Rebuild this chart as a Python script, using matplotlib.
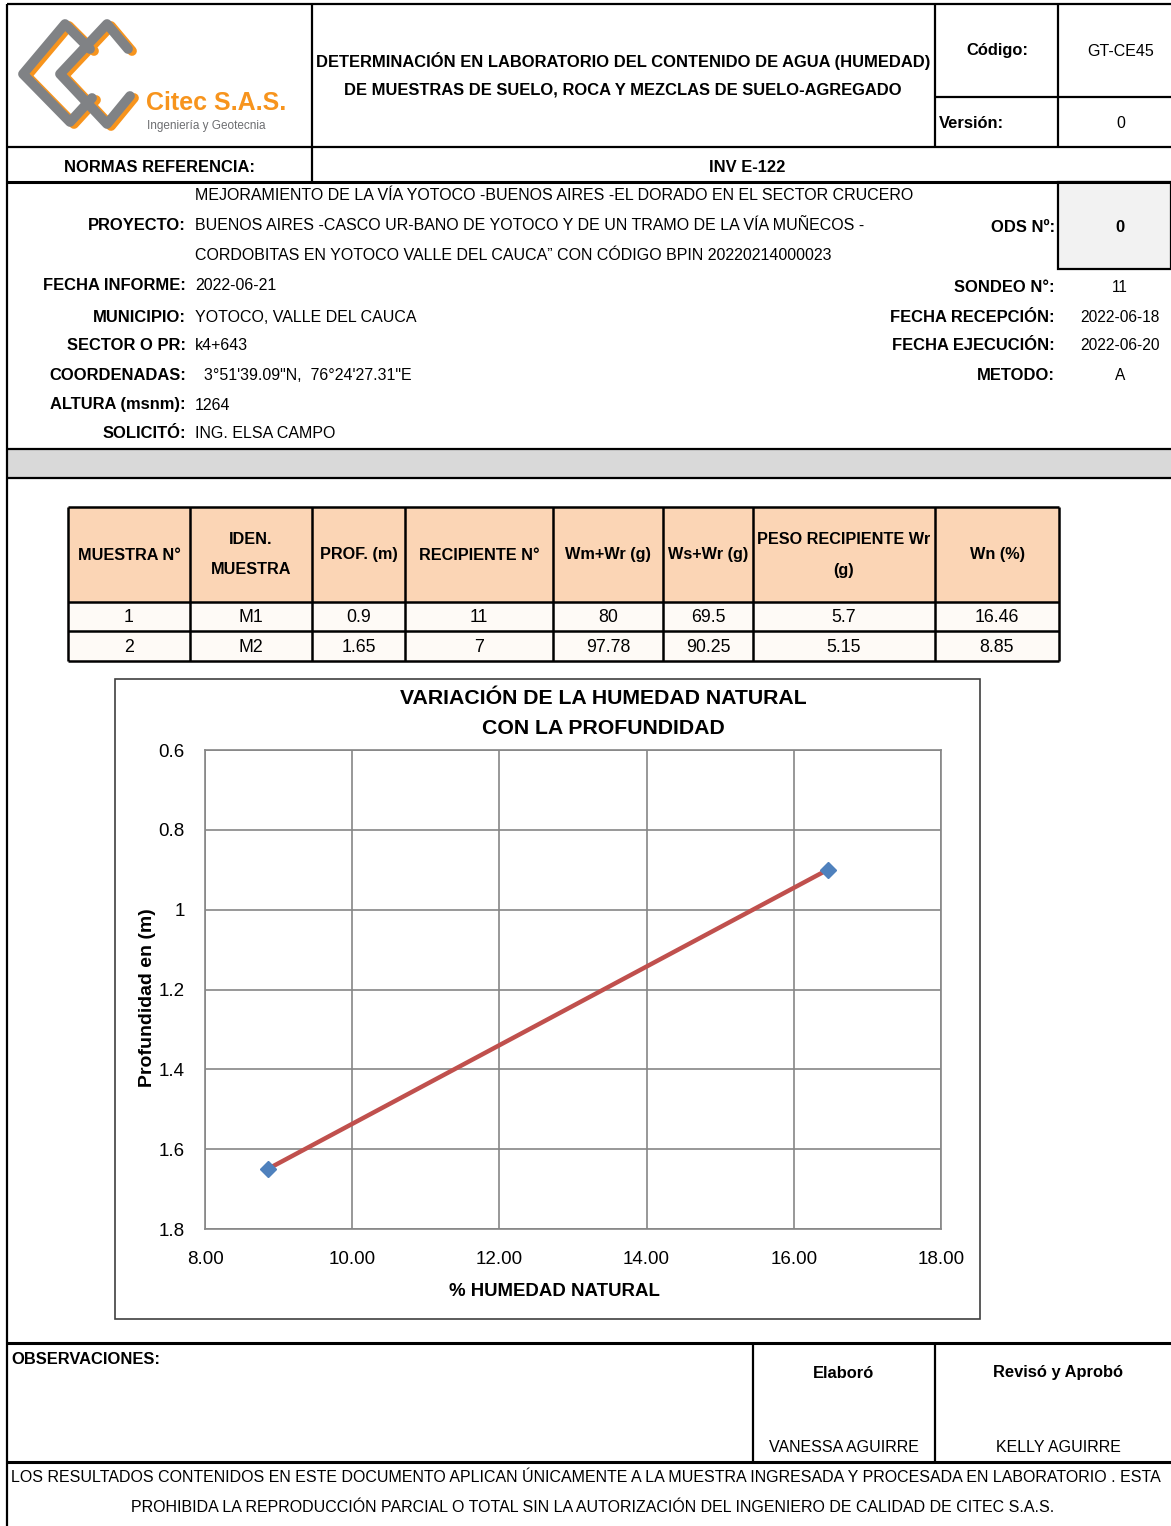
import matplotlib.pyplot as plt
from matplotlib.patches import Rectangle

FUENTE = ['Liberation Sans', 'DejaVu Sans']
plt.rcParams['font.family'] = FUENTE

# datos de la tabla de ensayo
muestra = ['1', '2']
iden = ['M1', 'M2']
prof = [0.9, 1.65]
recipiente = ['11', '7']
wm_wr = ['80', '97.78']
ws_wr = ['69.5', '90.25']
peso_wr = ['5.7', '5.15']
wn = [16.46, 8.85]

encabezados = ['MUESTRA N°', 'IDEN.\nMUESTRA', 'PROF. (m)', 'RECIPIENTE N°',
               'Wm+Wr (g)', 'Ws+Wr (g)', 'PESO RECIPIENTE Wr\n(g)', 'Wn (%)']
col_x = [68, 190, 312, 405, 553, 663, 753, 935, 1059]

x_ticks = [8, 10, 12, 14, 16, 18]
y_ticks = [0.6, 0.8, 1.0, 1.2, 1.4, 1.6, 1.8]
y_tick_labels = ['0.6', '0.8', '1', '1.2', '1.4', '1.6', '1.8']

W, H = 1171, 1526
fig = plt.figure(figsize=(W / 100, H / 100), dpi=100)
bg = fig.add_axes([0, 0, 1, 1])
bg.set_xlim(0, W)
bg.set_ylim(H, 0)
bg.axis('off')

REG, NEG = 11.5, 11.9   # tamaños de texto normal y en negrita


def linea(x0, y0, x1, y1, lw=1.6, color='black'):
    bg.plot([x0, x1], [y0, y1], color=color, lw=lw, solid_capstyle='butt')


def texto(x, y, s, size=None, bold=False, ha='center', color='black'):
    if size is None:
        size = NEG if bold else REG
    bg.text(x, y, s, fontsize=size, fontweight='bold' if bold else 'normal',
            ha=ha, va='center', color=color)


# ---- marco general ----
linea(7, 4, W, 4)
linea(7, 4, 7, H)
linea(7, 147, W, 147)
linea(7, 182, W, 182, lw=2.2)
linea(312, 4, 312, 182)
linea(935, 4, 935, 147)
linea(1058, 4, 1058, 147)
linea(935, 97, W, 97)

# ---- logo ----
gris, naranja = '#808285', '#F7941D'
c1 = [(90, 49), (65, 24), (23, 74), (70, 122), (92, 98)]
c2 = [(128, 49), (107, 24), (60, 74), (107, 124), (130, 96)]
for pts in (c1, c2):
    xs, ys = zip(*pts)
    bg.plot([x + 4 for x in xs], [y + 2 for y in ys], color=naranja, lw=7,
            solid_capstyle='round', solid_joinstyle='round')
for pts in (c1, c2):
    xs, ys = zip(*pts)
    bg.plot(xs, ys, color=gris, lw=7, solid_capstyle='round', solid_joinstyle='round')
texto(146, 103, 'Citec S.A.S.', size=18, bold=True, ha='left', color=naranja)
texto(147, 126, 'Ingeniería y Geotecnia', size=8.5, ha='left', color='#6D6E71')

# ---- encabezado ----
texto(623, 61, 'DETERMINACIÓN EN LABORATORIO DEL CONTENIDO DE AGUA (HUMEDAD)', bold=True)
texto(623, 90, 'DE MUESTRAS DE SUELO, ROCA Y MEZCLAS DE SUELO-AGREGADO', bold=True)
texto(997, 51, 'Código:', bold=True)
texto(1121, 51, 'GT-CE45')
texto(939, 123, 'Versión:', bold=True, ha='left')
texto(1121, 123, '0')
texto(159, 167, 'NORMAS REFERENCIA:', bold=True)
texto(747, 167, 'INV E-122', bold=True)

# ---- datos generales ----
etiquetas = [('PROYECTO:', 225), ('FECHA INFORME:', 286), ('MUNICIPIO:', 317),
             ('SECTOR O PR:', 346), ('COORDENADAS:', 376), ('ALTURA (msnm):', 405),
             ('SOLICITÓ:', 434)]
for s, y in etiquetas:
    texto(186, y, s, bold=True, ha='right')
proyecto = ['MEJORAMIENTO DE LA VÍA YOTOCO -BUENOS AIRES -EL DORADO EN EL SECTOR CRUCERO',
            'BUENOS AIRES -CASCO UR-BANO DE YOTOCO Y DE UN TRAMO DE LA VÍA MUÑECOS -',
            'CORDOBITAS EN YOTOCO VALLE DEL CAUCA” CON CÓDIGO BPIN 20220214000023']
for s, y in zip(proyecto, [196, 225, 255]):
    texto(195, y, s, ha='left')
valores = [('2022-06-21', 286), ('YOTOCO, VALLE DEL CAUCA', 317), ('k4+643', 346),
           ('  3°51\'39.09"N,  76°24\'27.31"E', 376), ('1264', 405), ('ING. ELSA CAMPO', 434)]
for s, y in valores:
    texto(195, y, s, ha='left')

bg.add_patch(Rectangle((1058, 182), W - 1058, 87, facecolor='#F2F2F2',
                       edgecolor='black', lw=1.6))
texto(1055, 227, 'ODS Nº:', bold=True, ha='right')
texto(1120, 227, '0', bold=True)
derecha = [('SONDEO N°:', '11', 287), ('FECHA RECEPCIÓN:', '2022-06-18', 317),
           ('FECHA EJECUCIÓN:', '2022-06-20', 346), ('METODO:', 'A', 376)]
for s, v, y in derecha:
    texto(1055, y, s, bold=True, ha='right')
    texto(1120, y, v, size=11.2)

bg.add_patch(Rectangle((7, 449), W - 7, 29, facecolor='#D9D9D9', edgecolor='none'))
linea(7, 449, W, 449)
linea(7, 478, W, 478)

# ---- tabla ----
filas_y = [507, 602, 631, 661]
bg.add_patch(Rectangle((68, 507), 1059 - 68, 95, facecolor='#FBD5B5', edgecolor='none'))
bg.add_patch(Rectangle((68, 602), 1059 - 68, 59, facecolor='#FEFAF6', edgecolor='none'))
for y in filas_y:
    linea(68, y, 1059, y, lw=1.8)
for x in col_x:
    linea(x, 507, x, 661, lw=1.8)
for i, h in enumerate(encabezados):
    cx = (col_x[i] + col_x[i + 1]) / 2
    lineas = h.split('\n')
    if len(lineas) == 2:
        texto(cx, 540, lineas[0], bold=True, size=11.7)
        texto(cx, 570, lineas[1], bold=True, size=11.7)
    else:
        texto(cx, 555, h, bold=True, size=11.7)
for j in range(2):
    fila = [muestra[j], iden[j], f'{prof[j]:g}', recipiente[j], wm_wr[j], ws_wr[j],
            peso_wr[j], f'{wn[j]:.2f}']
    cy = (filas_y[j + 1] + filas_y[j + 2]) / 2 + 1
    for i, v in enumerate(fila):
        texto((col_x[i] + col_x[i + 1]) / 2, cy, v, size=12.8)

# ---- grafico ----
bg.add_patch(Rectangle((115, 679), 980 - 115, 1319 - 679, facecolor='white',
                       edgecolor='#404040', lw=1.2))
texto(603, 699, 'VARIACIÓN DE LA HUMEDAD NATURAL', size=15.3, bold=True)
texto(603, 728, 'CON LA PROFUNDIDAD', size=15.3, bold=True)

ax = fig.add_axes([205 / W, 1 - 1229 / H, 736 / W, 479 / H])
ax.plot(wn, prof, color='#C0504D', lw=3.2, zorder=3)
ax.plot(wn, prof, ls='none', marker='D', ms=8, color='#4F81BD', zorder=4)
ax.set_xlim(8, 18)
ax.set_ylim(1.8, 0.6)
ax.set_xticks(x_ticks)
ax.set_xticklabels([f'{v:.2f}' for v in x_ticks])
ax.set_yticks(y_ticks)
ax.set_yticklabels(y_tick_labels)
ax.tick_params(length=0, labelsize=13.5)
ax.tick_params(axis='x', pad=15.5)
ax.tick_params(axis='y', pad=14.5)
ax.grid(True, color='#868686', lw=1.2)
ax.set_axisbelow(True)
for sp in ax.spines.values():
    sp.set_color('#868686')
    sp.set_linewidth(1.2)
texto(554, 1291, '% HUMEDAD NATURAL', size=13.4, bold=True)
bg.text(147, 998, 'Profundidad en (m)', fontsize=14, fontweight='bold', rotation=90,
        ha='center', va='center')

# ---- pie ----
linea(7, 1343, W, 1343, lw=2.2)
linea(753, 1343, 753, 1462)
linea(935, 1343, 935, 1462)
linea(7, 1462, W, 1462, lw=2.2)
texto(11, 1359, 'OBSERVACIONES:', bold=True, ha='left')
texto(844, 1373, 'Elaboró', bold=True)
texto(1058, 1373, 'Revisó y Aprobó', bold=True)
texto(844, 1448, 'VANESSA AGUIRRE')
texto(1058, 1448, 'KELLY AGUIRRE')
texto(11, 1477, 'LOS RESULTADOS CONTENIDOS EN ESTE DOCUMENTO APLICAN ÚNICAMENTE A LA MUESTRA '
      'INGRESADA Y PROCESADA EN LABORATORIO . ESTA', ha='left')
texto(593, 1507, 'PROHIBIDA LA REPRODUCCIÓN PARCIAL O TOTAL SIN LA AUTORIZACIÓN DEL INGENIERO '
      'DE CALIDAD DE CITEC S.A.S.')

fig.savefig('out.png', dpi=100)
